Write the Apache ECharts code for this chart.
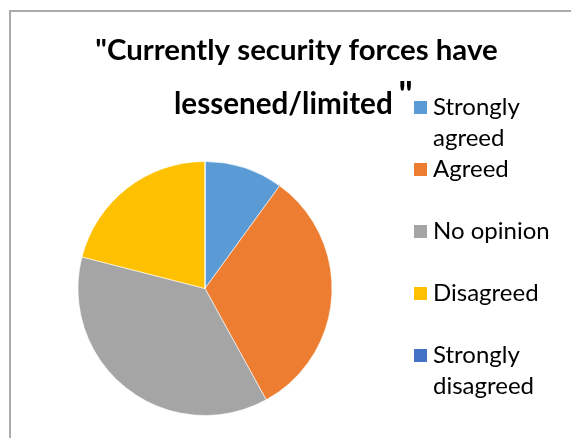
<!DOCTYPE html>
<html>
<head>
<meta charset="utf-8">
<script src="https://cdn.jsdelivr.net/npm/echarts@6/dist/echarts.min.js"></script>
<style>
  html, body { margin: 0; padding: 0; background: #fff; }
  #chart { width: 571px; height: 438px; }
</style>
</head>
<body>
<div id="chart"></div>
<script>
// survey answers, share of respondents
const categories = ['Strongly agreed', 'Agreed', 'No opinion', 'Disagreed', 'Strongly disagreed'];
const legendLabels = ['Strongly\nagreed', 'Agreed', 'No opinion', 'Disagreed', 'Strongly\ndisagreed'];
const values = [10, 32, 37, 21, 0];
const colors = ['#5B9BD5', '#ED7D31', '#A5A5A5', '#FFC000', '#4472C4'];

const font = 'Lato';
const lh = 31;

const chart = echarts.init(document.getElementById('chart'));

// one legend per entry so the squares sit at even steps like the original;
// two-line names get an empty first line so the square lines up with "Strongly"
const legends = categories.map((name, i) => {
  const twoLine = legendLabels[i].indexOf('\n') >= 0;
  const iconTop = 100 + 62 * i;
  return {
    data: [name],
    left: 412,
    top: iconTop - (twoLine ? lh * 1.5 - 7.5 : lh / 2 - 7.5),
    padding: 0,
    icon: 'rect',
    itemWidth: 15,
    itemHeight: 15,
    selectedMode: false,
    formatter: () => (twoLine ? '\n' : '') + legendLabels[i],
    textStyle: { fontFamily: font, fontSize: 24, color: '#000', lineHeight: lh }
  };
});

chart.setOption({
  animation: false,
  color: colors,
  title: [
    {
      text: '"Currently security forces have',
      left: 296.5, top: 36.3, textAlign: 'center', padding: 0,
      textStyle: { fontFamily: font, fontWeight: 'bold', fontSize: 29.4, color: '#000' }
    },
    {
      text: 'lessened/limited',
      left: 174, top: 89.8, padding: 0,
      textStyle: { fontFamily: font, fontWeight: 'bold', fontSize: 29.6, color: '#000' }
    },
    {
      text: '"',
      left: 398.5, top: 77.5, padding: 0,
      textStyle: { fontFamily: font, fontWeight: 'bold', fontSize: 36, color: '#000' }
    }
  ],
  legend: legends,
  graphic: [{
    type: 'rect',
    shape: { x: 10, y: 11, width: 700, height: 600 },
    style: { fill: 'none', stroke: '#ababab', lineWidth: 2 },
    silent: true
  }],
  series: [{
    type: 'pie',
    center: [205, 288.5],
    radius: 127,
    startAngle: 90,
    clockwise: true,
    label: { show: false },
    labelLine: { show: false },
    itemStyle: { borderColor: '#fff', borderWidth: 0.6 },
    emphasis: { disabled: true },
    data: categories.map((name, i) => ({ name: name, value: values[i] }))
  }]
});
</script>
</body>
</html>
